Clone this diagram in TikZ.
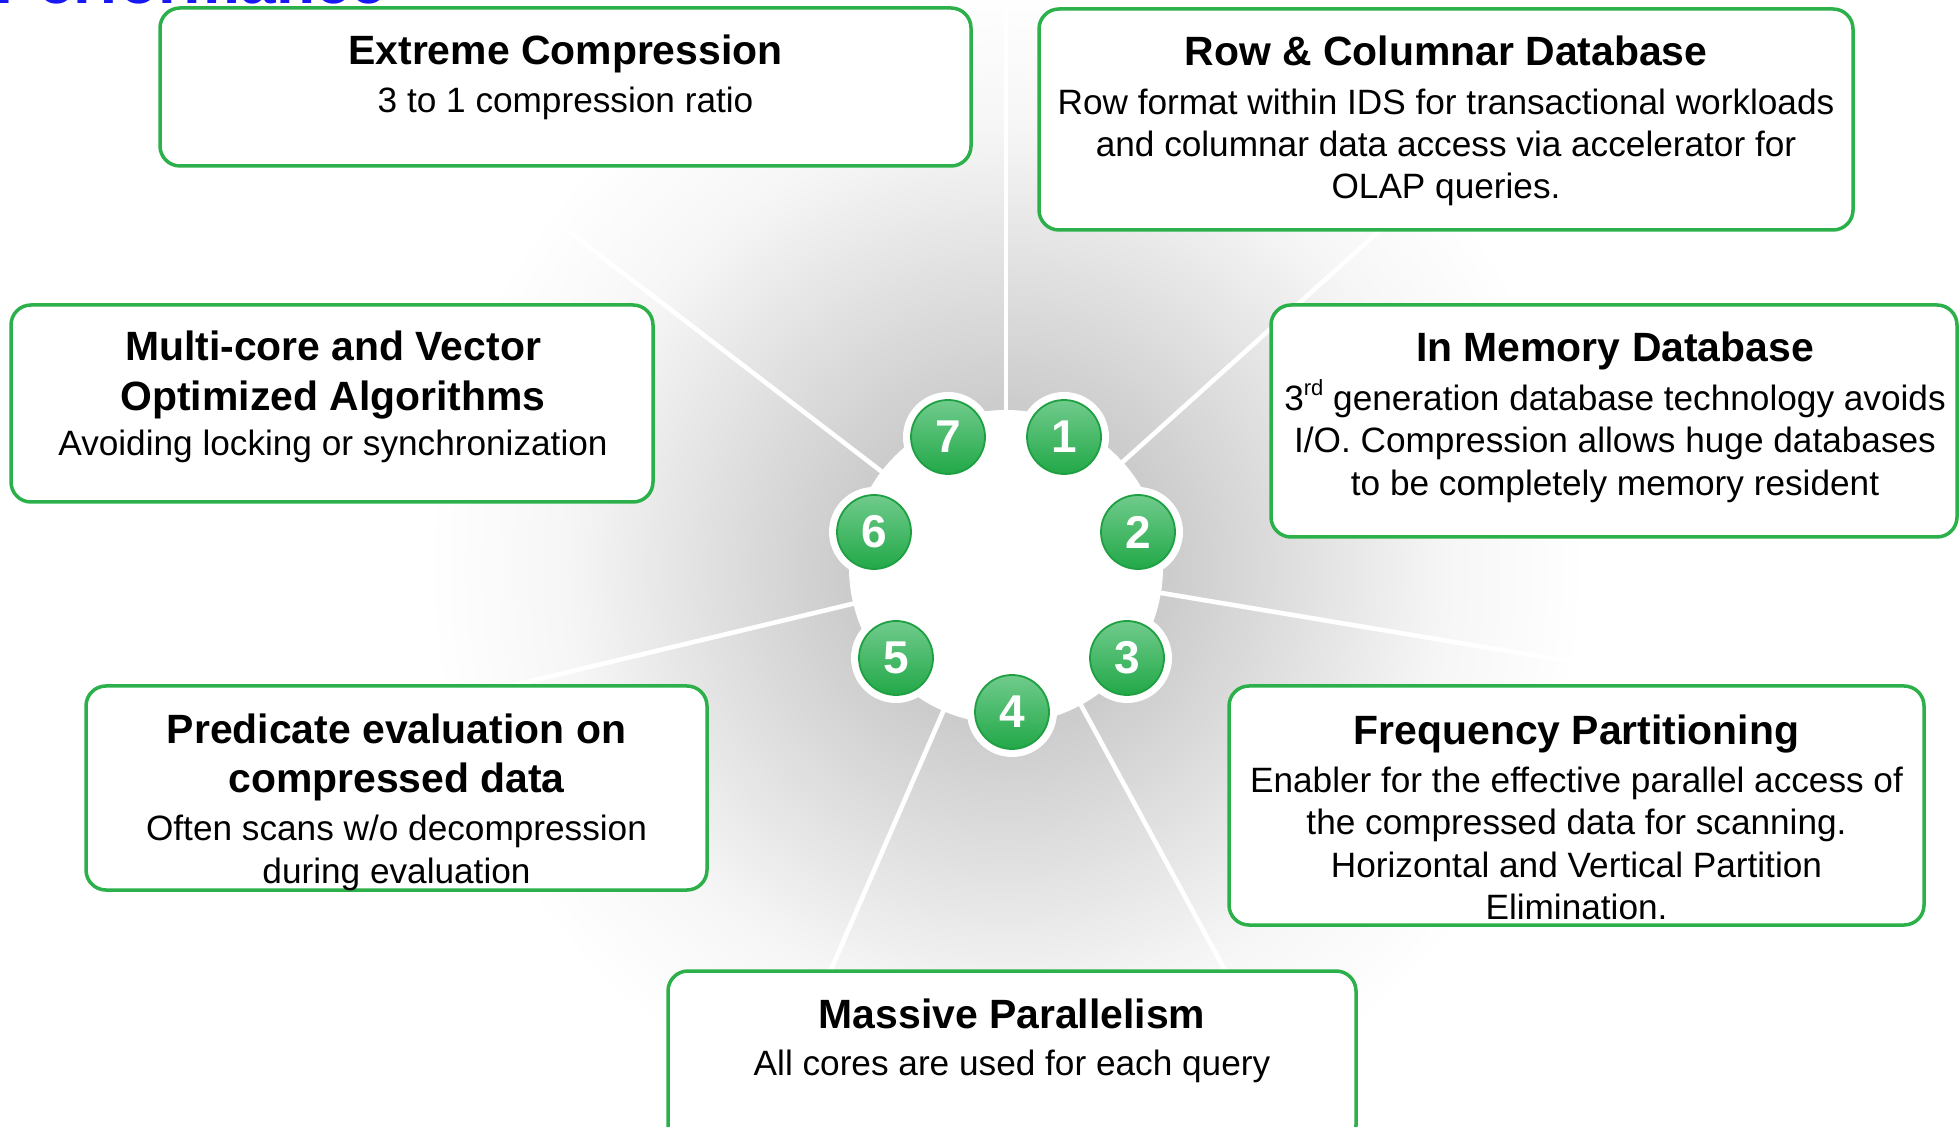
\documentclass[tikz,border=0pt]{standalone}
\usepackage{fontspec}
\setmainfont{Liberation Sans}
\usetikzlibrary{fit}
\definecolor{cardgreen}{RGB}{43,176,74}
\definecolor{numtop}{RGB}{112,203,140}
\definecolor{numbot}{RGB}{34,168,72}
\definecolor{numrim}{RGB}{30,160,66}
\definecolor{titleblue}{RGB}{24,24,245}
\definecolor{bgA}{gray}{0.74}
\definecolor{bgB}{gray}{0.80}
\definecolor{bgC}{gray}{0.965}
\pgfdeclareradialshading{bgglow}{\pgfpoint{0bp}{0bp}}{color(0bp)=(bgA); color(7bp)=(bgB); color(19bp)=(bgC); color(25bp)=(white); color(50bp)=(white)}
\begin{document}
\begin{tikzpicture}[x=0.5pt,y=-0.5pt,
  card/.style={draw=cardgreen,line width=1.75pt,rounded corners=10pt,fill=white,inner sep=0pt},
  ttl/.style={font=\fontsize{20.45}{24}\selectfont\bfseries,anchor=base,inner sep=0pt},
  txt/.style={font=\fontsize{17.6}{21}\selectfont,anchor=base,inner sep=0pt},
  numc/.style={circle,minimum size=37pt,inner sep=0pt,top color=numtop,bottom color=numbot,draw=numrim,line width=0.9pt,text=white,font=\fontsize{23}{23}\selectfont\bfseries},
  ray/.style={draw=white,line width=2.3pt},
  halo/.style={fill=white}]
\clip (0,0) rectangle (1959,1127);
\fill[white] (0,0) rectangle (1959,1127);
\coordinate (C) at (1006,567);
\shade[shading=bgglow] (C) circle (290pt);
% rays
\coordinate (e1) at ([shift={(-90:560)}]C);
\coordinate (e2) at ([shift={(-42:560)}]C);
\coordinate (e3) at ([shift={(9.5:620)}]C);
\coordinate (e4) at ([shift={(61.5:560)}]C);
\coordinate (e5) at ([shift={(113.5:560)}]C);
\coordinate (e6) at ([shift={(166.5:560)}]C);
\coordinate (e7) at ([shift={(-142.5:560)}]C);
\foreach \e in {e1,e2,e3,e4,e5,e6,e7} \draw[ray] (C) -- (\e);
% hub
\fill[white] (C) circle (78.5pt);
\coordinate (p1) at (1064,437);
\coordinate (p2) at (1138,532);
\coordinate (p3) at (1127,658);
\coordinate (p4) at (1012,712);
\coordinate (p5) at (896,658);
\coordinate (p6) at (874,532);
\coordinate (p7) at (948,437);
\foreach \p in {p1,p2,p3,p4,p5,p6,p7} \fill[halo] (\p) circle (22.5pt);
\node[numc] (n1) at (p1) {1};
\node[numc] (n2) at (p2) {2};
\node[numc] (n3) at (p3) {3};
\node[numc] (n4) at (p4) {4};
\node[numc] (n5) at (p5) {5};
\node[numc] (n6) at (p6) {6};
\node[numc] (n7) at (p7) {7};
% title fragment
\node[font=\fontsize{32}{32}\selectfont\bfseries,text=titleblue,anchor=base east,inner sep=0pt] (title) at (387,4) {Performance};
% cards
\node[card,fit={(160,8) (971,166)}] (b1) {};
\node[card,fit={(1039,9) (1853,230)}] (b2) {};
\node[card,fit={(11,305) (653,502)}] (b3) {};
\node[card,fit={(1271,305) (1957,537)}] (b4) {};
\node[card,fit={(86,686) (707,890)}] (b5) {};
\node[card,fit={(1229,686) (1924,925)}] (b6) {};
\node[card,fit={(668,971) (1356,1145)}] (b7) {};
% texts
\node[ttl] (b1t) at (565.5,65) {Extreme Compression};
\node[txt] (b1a) at (565.5,113) {3 to 1 compression ratio};
\node[ttl] (b2t) at (1446,66) {Row \& Columnar Database};
\node[txt] (b2a) at (1446,115) {Row format within IDS for transactional workloads};
\node[txt] (b2b) at (1446,157) {and columnar data access via accelerator for};
\node[txt] (b2c) at (1446,199) {OLAP queries.};
\node[ttl] (b3t) at (333,361) {Multi-core and Vector};
\node[ttl] (b3u) at (333,411) {Optimized Algorithms};
\node[txt] (b3a) at (333,456) {Avoiding locking or synchronization};
\node[ttl] (b4t) at (1615,362) {In Memory Database};
\node[txt] (b4a) at (1615,411) {3\raisebox{0.45em}{\fontsize{11}{11}\selectfont rd} generation database technology avoids};
\node[txt] (b4b) at (1615,453) {I/O. Compression allows huge databases};
\node[txt] (b4c) at (1615,496) {to be completely memory resident};
\node[ttl] (b5t) at (396.5,743) {Predicate evaluation on};
\node[ttl] (b5u) at (396.5,792) {compressed data};
\node[txt] (b5a) at (396.5,840) {Often scans w/o decompression};
\node[txt] (b5b) at (396.5,883) {during evaluation};
\node[ttl] (b6t) at (1576.5,745) {Frequency Partitioning};
\node[txt] (b6a) at (1576.5,792) {Enabler for the effective parallel access of};
\node[txt] (b6b) at (1576.5,834) {the compressed data for scanning.};
\node[txt] (b6c) at (1576.5,877) {Horizontal and Vertical Partition};
\node[txt] (b6d) at (1576.5,919) {Elimination.};
\node[ttl] (b7t) at (1012,1028) {Massive Parallelism};
\node[txt] (b7a) at (1012,1075) {All cores are used for each query};
\end{tikzpicture}
\end{document}
